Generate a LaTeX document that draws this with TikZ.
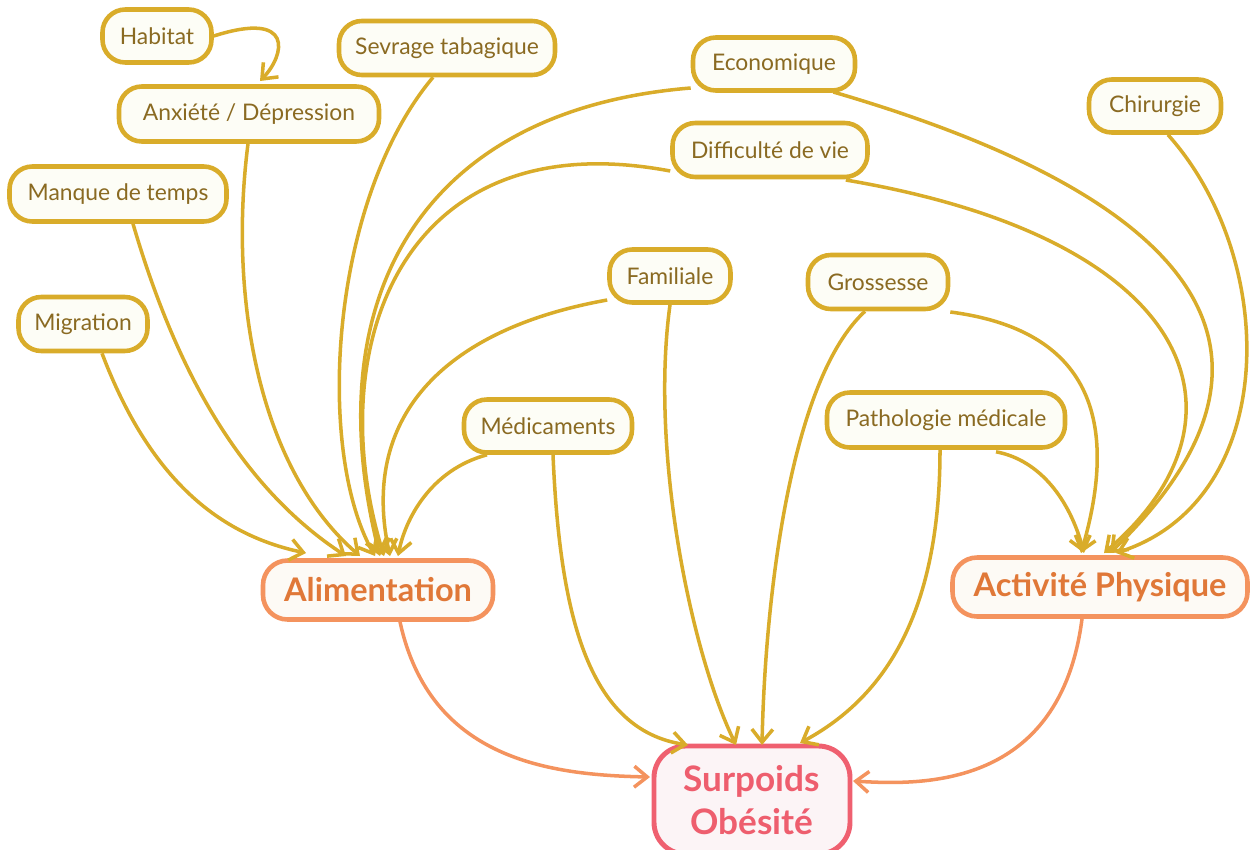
\documentclass[tikz,border=0pt]{standalone}
\usepackage{fontspec}
\setmainfont{Lato}
\usetikzlibrary{arrows.meta}
\definecolor{ybord}{HTML}{D9AC2A}
\definecolor{ytext}{HTML}{8A6A22}
\definecolor{yfill}{HTML}{FDFDF6}
\definecolor{obord}{HTML}{F4935E}
\definecolor{otext}{HTML}{E07838}
\definecolor{ofill}{HTML}{FDFAF5}
\definecolor{rbord}{HTML}{EF6070}
\definecolor{rtext}{HTML}{EE5E6E}
\definecolor{rfill}{HTML}{FCF4F6}
\tikzset{
  px/.style={x=0.02cm,y=-0.02cm},
  leaf/.style={draw=ybord,fill=yfill,text=ytext,line width=2.6pt,rounded corners=13pt,
    inner sep=0pt,font=\fontsize{13}{15}\selectfont,align=center},
  main/.style={draw=obord,fill=ofill,text=otext,line width=2.6pt,rounded corners=14pt,
    inner sep=0pt,font=\fontsize{18.5}{22}\selectfont\bfseries,align=center},
  root/.style={draw=rbord,fill=rfill,text=rtext,line width=2.8pt,rounded corners=18pt,
    inner sep=0pt,font=\fontsize{20}{24}\selectfont\bfseries,align=center},
  ya/.style={draw=ybord,line width=2pt,-{Straight Barb[length=2.6mm,width=4.2mm,line width=2pt]}},
  oa/.style={draw=obord,line width=2pt,-{Straight Barb[length=2.6mm,width=4.2mm,line width=2pt]}},
}
\begin{document}
\begin{tikzpicture}[px]
\useasboundingbox (0,0) rectangle (1253,849);
\newcommand{\bx}[6]{\node[#1,minimum width=#4*0.02cm,minimum height=#5*0.02cm] (#2) at (#3) {#6};}
\bx{leaf}{hab}{157,36}{109}{53}{Habitat}
\bx{leaf}{anx}{249,114}{260}{55}{Anxiété / Dépression}
\bx{leaf}{sev}{447,48}{216}{54}{Sevrage tabagique}
\bx{leaf}{eco}{774,64}{162}{53}{Economique}
\bx{leaf}{chi}{1155,106}{132}{53}{Chirurgie}
\bx{leaf}{man}{118,194}{217}{55}{Manque de temps}
\bx{leaf}{dif}{770,150}{195}{54}{Difficulté de vie}
\bx{leaf}{mig}{83,324}{129}{54}{Migration}
\bx{leaf}{fam}{670,276}{121}{53}{Familiale}
\bx{leaf}{gro}{878,282}{140}{54}{Grossesse}
\bx{leaf}{med}{548,426}{168}{53}{Médicaments}
\bx{leaf}{pat}{946,420}{238}{55}{Pathologie médicale}
\bx{main}{ali}{378,590}{230}{59}{Alimentation}
\bx{main}{act}{1100,587}{295}{59}{Activité Physique}
\bx{root}{sur}{752,800}{196}{108}{Surpoids\\Obésité}
% connectors
\draw[ya] (hab.east) .. controls (295,10) and (285,55) .. (260,81);
\draw[ya] (anx.south) ++(-1,0) .. controls (228,300) and (260,470) .. (360,556);
\draw[ya] (man.south) ++(15,0) .. controls (170,350) and (230,480) .. (346,556);
\draw[ya] (mig.south) ++(19,0) .. controls (150,480) and (220,535) .. (306,553);
\draw[ya] (sev.south) ++(-14,0) .. controls (330,200) and (315,450) .. (375,556);
\draw[ya] (eco.west) ++(0,24) .. controls (420,110) and (315,300) .. (380,556);
\draw[ya] (dif.west) ++(0,21) .. controls (400,120) and (320,350) .. (384,556);
\draw[ya] (fam.west) ++(0,24) .. controls (440,330) and (360,420) .. (390,556);
\draw[ya] (med.south) ++(-61,0) .. controls (430,470) and (405,520) .. (398,556);
\draw[ya] (med.south) ++(5,0) .. controls (560,620) and (590,730) .. (688,745);
\draw[ya] (fam.south) ++(0,0) .. controls (650,450) and (690,650) .. (736,745);
\draw[ya] (gro.south) ++(-13,0) .. controls (790,380) and (765,600) .. (762,745);
\draw[ya] (pat.south) ++(-6,0) .. controls (940,620) and (880,700) .. (800,743);
\draw[ya] (gro.east) ++(0,30) .. controls (1090,330) and (1120,420) .. (1081,553);
\draw[ya] (pat.south) ++(50,2) .. controls (1040,460) and (1070,500) .. (1084,553);
\draw[ya] (eco.east) ++(-24,28) .. controls (1170,190) and (1330,340) .. (1110,553);
\draw[ya] (dif.east) ++(-24,30) .. controls (1200,240) and (1260,420) .. (1104,553);
\draw[ya] (chi.south) ++(13,0) .. controls (1280,260) and (1280,500) .. (1116,553);
\draw[oa] (ali.south) ++(22,0) .. controls (430,760) and (550,775) .. (650,777);
\draw[oa] (act.south) ++(-18,0) .. controls (1060,790) and (920,785) .. (853,781);
\end{tikzpicture}
\end{document}
